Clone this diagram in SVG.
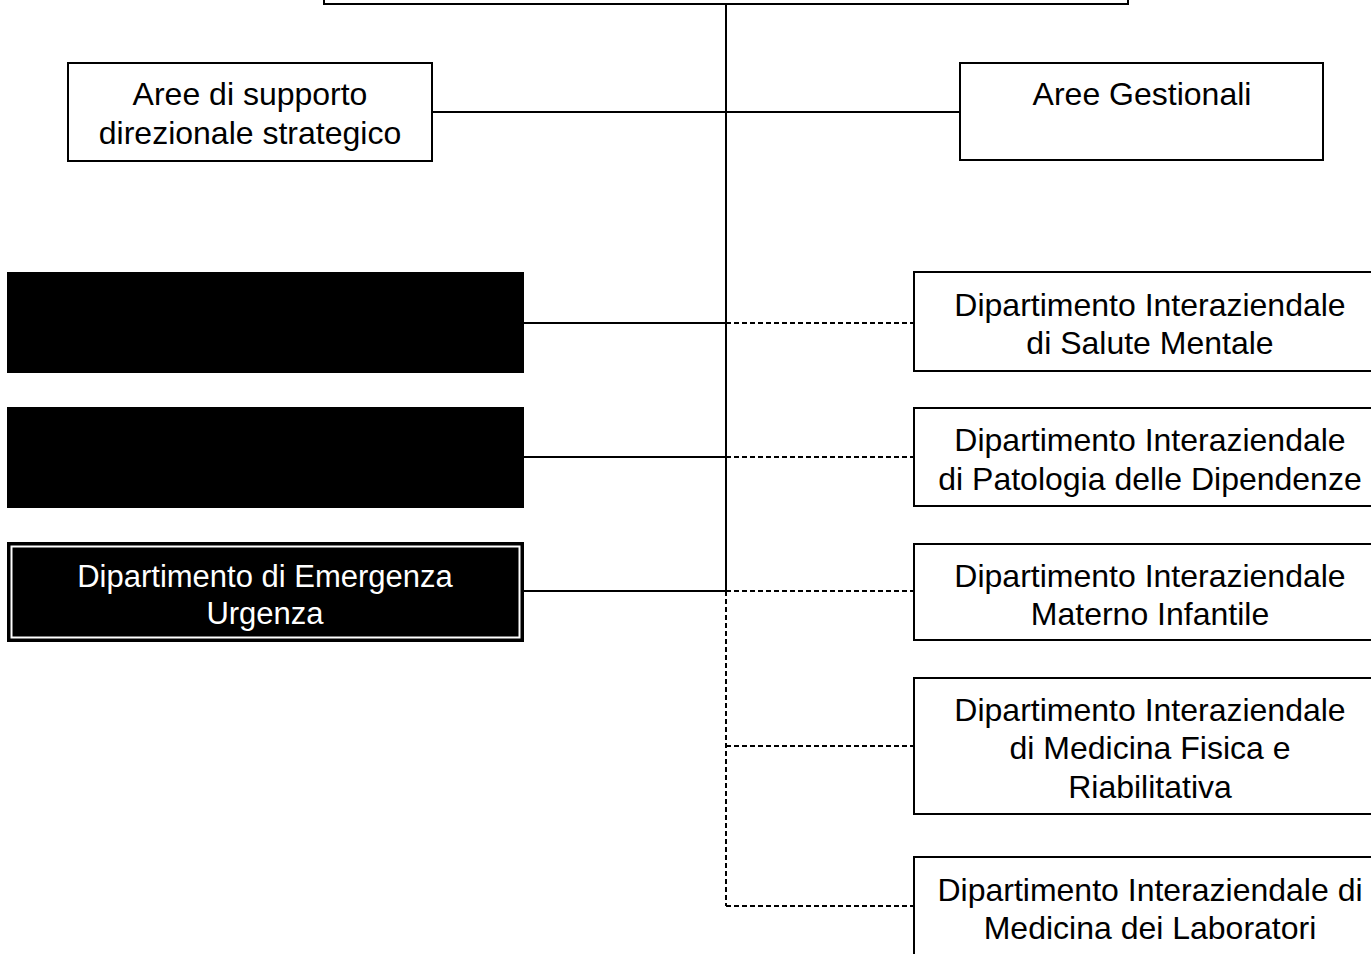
<svg xmlns="http://www.w3.org/2000/svg" width="1371" height="954" viewBox="0 0 1371 954">
<style>
.box{fill:#fff;stroke:#000;stroke-width:2}
.dark{fill:#000;stroke:#000;stroke-width:2}
.t{font-family:"Liberation Sans",Arial,sans-serif;font-size:32px;fill:#000;text-anchor:middle}
.tw{font-family:"Liberation Sans",Arial,sans-serif;font-size:31px;fill:#fff;text-anchor:middle}
.solid{stroke:#000;stroke-width:2;fill:none}
.dash{stroke:#000;stroke-width:2;fill:none;stroke-dasharray:5 3}
</style>
<rect width="1371" height="954" fill="#fff"/>
<g id="connectors">
<line class="solid" x1="726" y1="4" x2="726" y2="591"/>
<line class="solid" x1="432" y1="112" x2="960" y2="112"/>
<line class="solid" x1="523" y1="323" x2="726" y2="323"/>
<line class="dash" x1="726" y1="323" x2="914" y2="323"/>
<line class="solid" x1="523" y1="457" x2="726" y2="457"/>
<line class="dash" x1="726" y1="457" x2="914" y2="457"/>
<line class="solid" x1="523" y1="591" x2="726" y2="591"/>
<line class="dash" x1="726" y1="591" x2="914" y2="591"/>
<line class="dash" x1="726" y1="591" x2="726" y2="906"/>
<line class="dash" x1="726" y1="746" x2="914" y2="746"/>
<line class="dash" x1="726" y1="906" x2="914" y2="906"/>
</g>
<g id="top">
<rect class="box" x="324" y="-10" width="804" height="14"/>
</g>
<g id="supporto">
<rect class="box" x="68" y="63" width="364" height="98"/>
<text class="t" x="250" y="105">Aree di supporto</text>
<text class="t" x="250" y="144">direzionale strategico</text>
</g>
<g id="gestionali">
<rect class="box" x="960" y="63" width="363" height="97"/>
<text class="t" x="1142" y="105">Aree Gestionali</text>
</g>
<g id="dark1">
<rect class="dark" x="8" y="273" width="515" height="99"/>
</g>
<g id="dark2">
<rect class="dark" x="8" y="408" width="515" height="99"/>
</g>
<g id="emergenza">
<rect class="dark" x="8" y="543" width="515" height="98"/>
<rect x="11.5" y="546.5" width="508" height="91" fill="none" stroke="#fff" stroke-width="2"/>
<text class="tw" x="265" y="587">Dipartimento di Emergenza</text>
<text class="tw" x="265" y="624">Urgenza</text>
</g>
<g id="salute">
<rect class="box" x="914" y="272" width="470" height="99"/>
<text class="t" x="1150" y="316">Dipartimento Interaziendale</text>
<text class="t" x="1150" y="354">di Salute Mentale</text>
</g>
<g id="dipendenze">
<rect class="box" x="914" y="408" width="470" height="98"/>
<text class="t" x="1150" y="451">Dipartimento Interaziendale</text>
<text class="t" x="1150" y="490">di Patologia delle Dipendenze</text>
</g>
<g id="materno">
<rect class="box" x="914" y="544" width="470" height="96"/>
<text class="t" x="1150" y="587">Dipartimento Interaziendale</text>
<text class="t" x="1150" y="625">Materno Infantile</text>
</g>
<g id="riabilitativa">
<rect class="box" x="914" y="678" width="470" height="136"/>
<text class="t" x="1150" y="721">Dipartimento Interaziendale</text>
<text class="t" x="1150" y="759">di Medicina Fisica e</text>
<text class="t" x="1150" y="798">Riabilitativa</text>
</g>
<g id="laboratori">
<rect class="box" x="914" y="857" width="470" height="120"/>
<text class="t" x="1150" y="901">Dipartimento Interaziendale di</text>
<text class="t" x="1150" y="939">Medicina dei Laboratori</text>
</g>
</svg>
